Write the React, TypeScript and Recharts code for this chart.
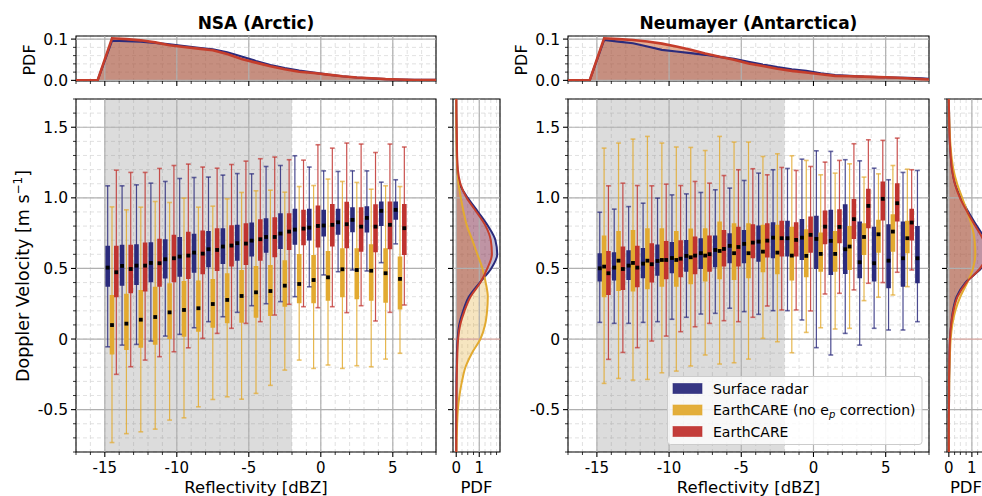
import React from 'react';
import {
  ComposedChart,
  XAxis,
  YAxis,
  CartesianGrid,
  ReferenceArea,
  ReferenceLine,
  Line,
  Scatter,
  Area,
} from 'recharts';

const FONT = '"DejaVu Sans", "Liberation Sans", sans-serif';

// colours
const BLUE = '#2b2b7c';
const YELLOW = '#e2aa30';
const RED = '#c0332f';
const RED_PDF = '#c53d2b';
const MINOR_GRID = '#d9d9d9';
const MAJOR_GRID = '#b0b0b0';

// axes / ticks
const reflMajor = [-15, -10, -5, 0, 5];
const reflLabels = ['-15', '-10', '-5', '0', '5'];
const reflMinor = [-17, -16, -15, -14, -13, -12, -11, -10, -9, -8, -7, -6, -5, -4, -3, -2, -1, 0, 1, 2, 3, 4, 5, 6, 7, 8];
const velMajor = [-0.5, 0, 0.5, 1, 1.5];
const velLabels = ['-0.5', '0', '0.5', '1.0', '1.5'];
const velMinor = [-0.8, -0.7, -0.6, -0.5, -0.4, -0.3, -0.2, -0.1, 0, 0.1, 0.2, 0.3, 0.4, 0.5, 0.6, 0.7, 0.8, 0.9, 1, 1.1, 1.2, 1.3, 1.4, 1.5, 1.6, 1.7];
const pdfMajor = [0, 0.1];
const pdfLabels = ['0.0', '0.1'];
const pdfMinor = [0, 0.02, 0.04, 0.06, 0.08, 0.1];
const densMajor = [0, 1];
const densLabels = ['0', '1'];
const densMinor = [0, 0.25, 0.5, 0.75, 1, 1.25, 1.5, 1.75];

// shaded reflectivity range
const spanFrom = -15;
const spanTo = -2;

const legendLabels = ['Surface radar', 'EarthCARE (no e', 'EarthCARE'];

// ---------- NSA (Arctic) box plots ----------
const nsaBins = [-14.5, -13.5, -12.5, -11.5, -10.5, -9.5, -8.5, -7.5, -6.5, -5.5, -4.5, -3.5, -2.5, -1.5, -0.5, 0.5, 1.5, 2.5, 3.5, 4.5, 5.5];

const nsaRadarHi = [1.085, 1.085, 1.092, 1.104, 1.116, 1.137, 1.144, 1.147, 1.161, 1.172, 1.17, 1.222, 1.229, 1.298, 1.218, 1.191, 1.187, 1.191, 1.191, 1.111, 1.128];
const nsaRadarQ3 = [0.66, 0.667, 0.672, 0.686, 0.707, 0.723, 0.745, 0.766, 0.785, 0.809, 0.825, 0.856, 0.891, 0.922, 0.922, 0.915, 0.922, 0.934, 0.941, 0.974, 0.974];
const nsaRadarMed = [0.506, 0.518, 0.52, 0.539, 0.565, 0.584, 0.612, 0.636, 0.655, 0.679, 0.697, 0.723, 0.747, 0.775, 0.789, 0.804, 0.827, 0.844, 0.858, 0.908, 0.915];
const nsaRadarQ1 = [0.37, 0.378, 0.383, 0.402, 0.428, 0.442, 0.47, 0.508, 0.532, 0.555, 0.584, 0.612, 0.638, 0.667, 0.697, 0.726, 0.738, 0.757, 0.754, 0.801, 0.844];
const nsaRadarLo = [-0.055, -0.043, -0.038, -0.014, 0.021, 0.033, 0.08, 0.123, 0.158, 0.189, 0.236, 0.25, 0.265, 0.3, 0.37, 0.454, 0.477, 0.489, 0.482, 0.541, 0.674];

const nsaNoCorrHi = [0.936, 0.915, 0.934, 0.974, 0.967, 0.998, 0.934, 0.941, 0.993, 1.038, 1.05, 1.054, 1.04, 1.08, 1.087, 1.133, 1.116, 1.109, 1.061, 1.085, 1.08];
const nsaNoCorrQ3 = [0.312, 0.32, 0.348, 0.371, 0.395, 0.411, 0.414, 0.426, 0.466, 0.489, 0.518, 0.525, 0.558, 0.603, 0.596, 0.624, 0.643, 0.643, 0.672, 0.643, 0.584];
const nsaNoCorrMed = [0.099, 0.109, 0.137, 0.156, 0.189, 0.206, 0.218, 0.248, 0.277, 0.305, 0.331, 0.34, 0.378, 0.39, 0.418, 0.437, 0.494, 0.489, 0.484, 0.466, 0.426];
const nsaNoCorrQ1 = [-0.109, -0.078, -0.061, -0.04, 0.0, 0.016, 0.052, 0.08, 0.111, 0.116, 0.151, 0.163, 0.229, 0.253, 0.253, 0.272, 0.296, 0.281, 0.272, 0.257, 0.21];
const nsaNoCorrLo = [-0.733, -0.67, -0.657, -0.638, -0.574, -0.558, -0.48, -0.428, -0.409, -0.426, -0.385, -0.328, -0.22, -0.149, -0.208, -0.184, -0.208, -0.189, -0.196, -0.142, -0.101];

const nsaEcHi = [1.196, 1.18, 1.18, 1.208, 1.229, 1.239, 1.218, 1.21, 1.236, 1.26, 1.277, 1.289, 1.27, 1.267, 1.376, 1.352, 1.388, 1.381, 1.321, 1.381, 1.36];
const nsaEcQ3 = [0.66, 0.667, 0.683, 0.711, 0.738, 0.759, 0.768, 0.785, 0.806, 0.82, 0.849, 0.863, 0.891, 0.915, 0.946, 0.957, 0.972, 0.934, 0.955, 0.974, 0.957];
const nsaEcMed = [0.473, 0.496, 0.52, 0.537, 0.572, 0.591, 0.605, 0.631, 0.662, 0.676, 0.707, 0.723, 0.761, 0.782, 0.801, 0.809, 0.813, 0.796, 0.796, 0.809, 0.785];
const nsaEcQ1 = [0.296, 0.324, 0.336, 0.371, 0.402, 0.426, 0.459, 0.482, 0.513, 0.525, 0.555, 0.579, 0.631, 0.664, 0.648, 0.655, 0.643, 0.619, 0.615, 0.636, 0.596];
const nsaEcLo = [-0.25, -0.196, -0.149, -0.125, -0.09, -0.062, 0.005, 0.04, 0.076, 0.111, 0.123, 0.17, 0.246, 0.229, 0.222, 0.229, 0.187, 0.236, 0.128, 0.189, 0.241];

// ---------- Neumayer (Antarctica) box plots ----------
const neuBins = [-14.5, -13.5, -12.5, -11.5, -10.5, -9.5, -8.5, -7.5, -6.5, -5.5, -4.5, -3.5, -2.5, -1.5, -0.5, 0.5, 1.5, 2.5, 3.5, 4.5, 5.5, 6.5];
const neuRadarBins = [-14.5, -13.5, -12.5, -11.5, -10.5, -9.5, -8.5, -7.5, -6.5, -5.5, -4.5, -3.5, -2.5, -1.5, -0.5, 0.5, 1.5, 2.5, 3.5, 4.5, 5.5, 6.5, 7.5];

const neuRadarHi = [0.898, 0.92, 0.938, 0.962, 0.998, 1.021, 1.028, 1.038, 1.057, 1.069, 1.123, 1.175, 1.199, 1.208, 1.274, 1.333, 1.329, 1.27, 1.262, 1.21, 1.128, 1.18, 1.194];
const neuRadarQ3 = [0.608, 0.615, 0.629, 0.645, 0.669, 0.688, 0.702, 0.714, 0.733, 0.75, 0.773, 0.804, 0.827, 0.837, 0.851, 0.874, 0.915, 0.955, 0.832, 0.796, 0.813, 0.832, 0.801];
const neuRadarMed = [0.501, 0.506, 0.52, 0.534, 0.553, 0.574, 0.589, 0.608, 0.631, 0.66, 0.674, 0.69, 0.718, 0.714, 0.718, 0.709, 0.695, 0.636, 0.544, 0.537, 0.555, 0.572, 0.572];
const neuRadarQ1 = [0.407, 0.414, 0.418, 0.43, 0.449, 0.466, 0.477, 0.496, 0.508, 0.537, 0.537, 0.548, 0.572, 0.584, 0.56, 0.496, 0.454, 0.461, 0.43, 0.407, 0.359, 0.371, 0.395];
const neuRadarLo = [0.118, 0.111, 0.111, 0.118, 0.123, 0.14, 0.154, 0.177, 0.182, 0.218, 0.194, 0.175, 0.201, 0.201, 0.135, -0.061, -0.113, 0.04, -0.043, 0.076, 0.064, 0.064, 0.123];

const neuNoCorrHi = [1.352, 1.388, 1.416, 1.435, 1.388, 1.36, 1.357, 1.335, 1.435, 1.395, 1.395, 1.293, 1.312, 1.298, 1.265, 1.163, 1.175, 1.241, 1.147, 1.17, 1.229, 1.203];
const neuNoCorrQ3 = [0.733, 0.766, 0.773, 0.785, 0.785, 0.766, 0.782, 0.785, 0.832, 0.82, 0.82, 0.809, 0.809, 0.796, 0.778, 0.754, 0.766, 0.801, 0.82, 0.844, 0.884, 0.837];
const neuNoCorrMed = [0.513, 0.555, 0.539, 0.555, 0.56, 0.56, 0.579, 0.591, 0.624, 0.608, 0.608, 0.619, 0.612, 0.591, 0.589, 0.603, 0.603, 0.655, 0.723, 0.742, 0.761, 0.714];
const neuNoCorrQ1 = [0.296, 0.34, 0.336, 0.352, 0.371, 0.371, 0.388, 0.407, 0.423, 0.418, 0.43, 0.473, 0.459, 0.414, 0.437, 0.477, 0.477, 0.489, 0.596, 0.612, 0.619, 0.608];
const neuNoCorrLo = [-0.314, -0.279, -0.291, -0.286, -0.239, -0.227, -0.191, -0.113, -0.177, -0.168, -0.142, 0.005, -0.019, -0.097, 0.047, 0.08, 0.071, 0.076, 0.272, 0.296, 0.312, 0.371];

const neuEcHi = [1.085, 1.104, 1.087, 1.085, 1.097, 1.087, 1.116, 1.104, 1.158, 1.199, 1.206, 1.163, 1.215, 1.194, 1.222, 1.253, 1.265, 1.383, 1.411, 1.407, 1.423, 1.199];
const neuEcQ3 = [0.624, 0.655, 0.66, 0.678, 0.695, 0.7, 0.726, 0.733, 0.773, 0.796, 0.813, 0.82, 0.837, 0.827, 0.867, 0.91, 0.92, 0.991, 1.064, 1.116, 1.104, 0.922];
const neuEcMed = [0.466, 0.496, 0.506, 0.53, 0.56, 0.569, 0.591, 0.601, 0.638, 0.652, 0.683, 0.697, 0.714, 0.702, 0.738, 0.796, 0.794, 0.849, 0.943, 0.993, 0.962, 0.825];
const neuEcQ1 = [0.312, 0.348, 0.367, 0.4, 0.423, 0.437, 0.459, 0.477, 0.513, 0.513, 0.572, 0.577, 0.584, 0.584, 0.612, 0.672, 0.678, 0.709, 0.785, 0.839, 0.832, 0.697];
const neuEcLo = [-0.144, -0.095, -0.061, -0.014, 0.021, 0.052, 0.087, 0.111, 0.13, 0.123, 0.154, 0.234, 0.206, 0.206, 0.199, 0.319, 0.324, 0.348, 0.395, 0.4, 0.473, 0.489];

// ---------- reflectivity PDFs (top panels) ----------
const pdfRefl = [-17, -16.5, -15.5, -14.5, -13.5, -12.5, -11.5, -10.5, -9.5, -8.5, -7.5, -6.5, -5.5, -4.5, -3.5, -2.5, -1.5, -0.5, 0.5, 1.5, 2.5, 3.5, 4.5, 5.5, 6.5, 7.5, 8];
const nsaTopRadar = [0, 0, 0, 0.096, 0.095, 0.094, 0.091, 0.087, 0.083, 0.079, 0.075, 0.068, 0.058, 0.047, 0.037, 0.03, 0.024, 0.019, 0.014, 0.01, 0.007, 0.005, 0.003, 0.002, 0.001, 0.001, 0.001];
const nsaTopEc = [0, 0, 0, 0.102, 0.1, 0.097, 0.092, 0.085, 0.081, 0.077, 0.073, 0.064, 0.052, 0.043, 0.034, 0.027, 0.021, 0.018, 0.014, 0.01, 0.007, 0.005, 0.003, 0.002, 0.001, 0.001, 0.001];
const neuTopRadar = [0, 0, 0, 0.098, 0.094, 0.09, 0.082, 0.074, 0.07, 0.066, 0.062, 0.057, 0.052, 0.045, 0.038, 0.032, 0.027, 0.023, 0.017, 0.013, 0.011, 0.009, 0.008, 0.007, 0.006, 0.005, 0.004];
const neuTopEc = [0, 0, 0, 0.102, 0.1, 0.098, 0.094, 0.089, 0.082, 0.074, 0.065, 0.057, 0.05, 0.041, 0.035, 0.028, 0.023, 0.019, 0.015, 0.011, 0.01, 0.009, 0.008, 0.007, 0.005, 0.003, 0.002];

// ---------- velocity PDFs (side panels) ----------
const velGrid = [-0.8, -0.7, -0.6, -0.5, -0.4, -0.3, -0.2, -0.1, 0, 0.1, 0.2, 0.3, 0.4, 0.5, 0.6, 0.7, 0.8, 0.9, 1.0, 1.1, 1.2, 1.3, 1.4, 1.5, 1.6, 1.7];
const nsaVelRadar = [0, 0, 0, 0.005, 0.01, 0.01, 0.02, 0.03, 0.06, 0.13, 0.3, 0.55, 1.02, 1.52, 1.78, 1.7, 1.38, 0.95, 0.5, 0.15, 0.05, 0.03, 0.02, 0.01, 0.005, 0];
const nsaVelNoCorr = [0.01, 0.02, 0.04, 0.07, 0.14, 0.25, 0.4, 0.68, 1.05, 1.25, 1.34, 1.37, 1.28, 1.14, 0.92, 0.7, 0.47, 0.32, 0.2, 0.1, 0.05, 0.02, 0.01, 0.005, 0, 0];
const nsaVelEc = [0, 0, 0.005, 0.01, 0.01, 0.02, 0.03, 0.05, 0.08, 0.17, 0.36, 0.62, 1.05, 1.35, 1.55, 1.5, 1.28, 0.88, 0.45, 0.18, 0.07, 0.04, 0.03, 0.02, 0.01, 0.005];
const neuVelRadar = [0, 0, 0, 0.005, 0.01, 0.01, 0.02, 0.03, 0.05, 0.1, 0.18, 0.34, 0.72, 1.4, 1.75, 1.6, 1.22, 0.85, 0.52, 0.27, 0.14, 0.08, 0.04, 0.02, 0.01, 0];
const neuVelNoCorr = [0, 0, 0, 0.005, 0.01, 0.02, 0.03, 0.05, 0.08, 0.15, 0.28, 0.5, 0.8, 1.05, 1.15, 1.12, 1.0, 0.8, 0.58, 0.36, 0.2, 0.11, 0.06, 0.03, 0.01, 0];
const neuVelEc = [0, 0, 0, 0.005, 0.01, 0.01, 0.02, 0.03, 0.05, 0.1, 0.2, 0.38, 0.76, 1.35, 1.65, 1.5, 1.15, 0.8, 0.48, 0.26, 0.14, 0.08, 0.04, 0.02, 0.01, 0];

type BoxSet = {
  name: string;
  bins: number[];
  off: number;
  color: string;
  lo: number[];
  q1: number[];
  med: number[];
  q3: number[];
  hi: number[];
};

const nsaSets: BoxSet[] = [
  { name: 'nsa-radar', bins: nsaBins, off: -0.3, color: BLUE, lo: nsaRadarLo, q1: nsaRadarQ1, med: nsaRadarMed, q3: nsaRadarQ3, hi: nsaRadarHi },
  { name: 'nsa-nocorr', bins: nsaBins, off: 0, color: YELLOW, lo: nsaNoCorrLo, q1: nsaNoCorrQ1, med: nsaNoCorrMed, q3: nsaNoCorrQ3, hi: nsaNoCorrHi },
  { name: 'nsa-ec', bins: nsaBins, off: 0.3, color: RED, lo: nsaEcLo, q1: nsaEcQ1, med: nsaEcMed, q3: nsaEcQ3, hi: nsaEcHi },
];

const neuSets: BoxSet[] = [
  { name: 'neu-radar', bins: neuRadarBins, off: -0.3, color: BLUE, lo: neuRadarLo, q1: neuRadarQ1, med: neuRadarMed, q3: neuRadarQ3, hi: neuRadarHi },
  { name: 'neu-nocorr', bins: neuBins, off: 0, color: YELLOW, lo: neuNoCorrLo, q1: neuNoCorrQ1, med: neuNoCorrMed, q3: neuNoCorrQ3, hi: neuNoCorrHi },
  { name: 'neu-ec', bins: neuBins, off: 0.3, color: RED, lo: neuEcLo, q1: neuEcQ1, med: neuEcMed, q3: neuEcQ3, hi: neuEcHi },
];

// tick renderers: major ticks longer and labelled, minor ticks short
const xTick = (majors: number[], labels: string[] | null) => (p: any) => {
  const k = majors.indexOf(p.payload.value);
  return (
    <g>
      <line x1={p.x} x2={p.x} y1={p.y} y2={p.y + (k >= 0 ? 5 : 3)} stroke="#000" strokeWidth={k >= 0 ? 1.1 : 0.8} />
      {labels && k >= 0 ? (
        <text x={p.x} y={p.y + 21} textAnchor="middle" fontSize={15} fontFamily={FONT} fill="#000">
          {labels[k]}
        </text>
      ) : null}
    </g>
  );
};

const yTick = (majors: number[], labels: string[] | null) => (p: any) => {
  const k = majors.indexOf(p.payload.value);
  return (
    <g>
      <line x1={p.x - (k >= 0 ? 5 : 3)} x2={p.x} y1={p.y} y2={p.y} stroke="#000" strokeWidth={k >= 0 ? 1.1 : 0.8} />
      {labels && k >= 0 ? (
        <text x={p.x - 8} y={p.y} dy="0.36em" textAnchor="end" fontSize={15.5} fontFamily={FONT} fill="#000">
          {labels[k]}
        </text>
      ) : null}
    </g>
  );
};

const capShape = (color: string) => (p: any) => (
  <line x1={p.cx - 2.4} x2={p.cx + 2.4} y1={p.cy} y2={p.cy} stroke={color} strokeWidth={1.6} strokeOpacity={0.7} />
);

const medianShape = (p: any) => <rect x={p.cx - 1.9} y={p.cy - 1.9} width={3.8} height={3.8} fill="#000" />;

function boxElements(s: BoxSet) {
  const xs = s.bins.map((b) => b + s.off);
  const whiskers = xs.flatMap((x, i) => [{ x, y: s.lo[i] }, { x, y: s.hi[i] }, { x, y: null }]);
  const boxes = xs.flatMap((x, i) => [{ x, y: s.q1[i] }, { x, y: s.q3[i] }, { x, y: null }]);
  const caps = xs.flatMap((x, i) => [{ x, y: s.lo[i] }, { x, y: s.hi[i] }]);
  const medians = xs.map((x, i) => ({ x, y: s.med[i] }));
  return [
    <Line key={s.name + '-w'} data={whiskers} dataKey="y" type="linear" stroke={s.color} strokeOpacity={0.85} strokeWidth={1.2} dot={false} activeDot={false} connectNulls={false} isAnimationActive={false} />,
    <Line key={s.name + '-b'} data={boxes} dataKey="y" type="linear" stroke={s.color} strokeWidth={4.6} dot={false} activeDot={false} connectNulls={false} isAnimationActive={false} />,
    <Scatter key={s.name + '-c'} data={caps} shape={capShape(s.color)} isAnimationActive={false} />,
    <Scatter key={s.name + '-m'} data={medians} shape={medianShape} isAnimationActive={false} />,
  ];
}

function BoxPanel({ plotLeft, plotW, sets }: { plotLeft: number; plotW: number; sets: BoxSet[] }) {
  return (
    <div style={{ position: 'absolute', left: plotLeft - 60, top: 87 }}>
      <ComposedChart width={60 + plotW + 4} height={391} margin={{ top: 12, right: 4, bottom: 0, left: 0 }}>
        <XAxis type="number" dataKey="x" domain={[-17, 8]} allowDataOverflow ticks={reflMinor} interval={0}
          tick={xTick(reflMajor, reflLabels)} tickLine={false} axisLine={false} tickSize={0} tickMargin={0} height={26} />
        <YAxis type="number" dataKey="y" domain={[-0.8, 1.7]} allowDataOverflow ticks={velMinor} interval={0}
          tick={yTick(velMajor, velLabels)} tickLine={false} axisLine={false} tickSize={0} tickMargin={0} width={60} />
        <ReferenceArea x1={spanFrom} x2={spanTo} fill="#7f7f7f" fillOpacity={0.27} stroke="none" />
        <CartesianGrid strokeDasharray="4 3" stroke={MINOR_GRID} strokeWidth={0.8} />
        {reflMajor.map((v) => <ReferenceLine key={'gx' + v} x={v} stroke={MAJOR_GRID} strokeWidth={1.2} />)}
        {velMajor.map((v) => <ReferenceLine key={'gy' + v} y={v} stroke={MAJOR_GRID} strokeWidth={1.2} />)}
        {sets.flatMap((s) => boxElements(s))}
        <ReferenceArea x1={-17} x2={8} y1={-0.8} y2={1.7} fill="none" stroke="#000" strokeWidth={1.1} />
      </ComposedChart>
    </div>
  );
}

function TopPdf({ plotLeft, plotW, radar, ec }: { plotLeft: number; plotW: number; radar: number[]; ec: number[] }) {
  const rows = pdfRefl.map((x, i) => ({ x, radar: radar[i], noCorr: ec[i], ec: ec[i] }));
  return (
    <div style={{ position: 'absolute', left: plotLeft - 60, top: 22 }}>
      <ComposedChart width={60 + plotW + 4} height={69} data={rows} margin={{ top: 14, right: 4, bottom: 0, left: 0 }}>
        <XAxis type="number" dataKey="x" domain={[-17, 8]} allowDataOverflow ticks={reflMinor} interval={0}
          tick={xTick(reflMajor, null)} tickLine={false} axisLine={false} tickSize={0} tickMargin={0} height={10} />
        <YAxis type="number" domain={[-0.0015, 0.1075]} allowDataOverflow ticks={pdfMinor} interval={0}
          tick={yTick(pdfMajor, pdfLabels)} tickLine={false} axisLine={false} tickSize={0} tickMargin={0} width={60} />
        <CartesianGrid strokeDasharray="4 3" stroke={MINOR_GRID} strokeWidth={0.8} />
        {reflMajor.map((v) => <ReferenceLine key={'gx' + v} x={v} stroke={MAJOR_GRID} strokeWidth={1.2} />)}
        {pdfMajor.map((v) => <ReferenceLine key={'gy' + v} y={v} stroke={MAJOR_GRID} strokeWidth={1.2} />)}
        <Area dataKey="radar" type="linear" baseValue={0} fill={BLUE} fillOpacity={0.3} stroke="none" isAnimationActive={false} />
        <Area dataKey="noCorr" type="linear" baseValue={0} fill={YELLOW} fillOpacity={0.3} stroke="none" isAnimationActive={false} />
        <Area dataKey="ec" type="linear" baseValue={0} fill={RED} fillOpacity={0.3} stroke="none" isAnimationActive={false} />
        <Line dataKey="radar" type="linear" stroke={BLUE} strokeWidth={2.2} dot={false} activeDot={false} isAnimationActive={false} />
        <Line dataKey="ec" type="linear" stroke={RED_PDF} strokeWidth={2.6} dot={false} activeDot={false} isAnimationActive={false} />
        <ReferenceArea x1={-17} x2={8} y1={-0.0015} y2={0.1075} fill="none" stroke="#000" strokeWidth={1.1} />
      </ComposedChart>
    </div>
  );
}

function SidePdf({ plotLeft, domain, radar, noCorr, ec }: { plotLeft: number; domain: [number, number]; radar: number[]; noCorr: number[]; ec: number[] }) {
  const rows = velGrid.map((v, i) => ({ v, radar: radar[i], noCorr: noCorr[i], ec: ec[i] }));
  return (
    <div style={{ position: 'absolute', left: plotLeft - 6, top: 87 }}>
      <ComposedChart layout="vertical" width={6 + 47 + 4} height={391} data={rows} margin={{ top: 12, right: 4, bottom: 0, left: 0 }}>
        <XAxis type="number" domain={domain} allowDataOverflow ticks={densMinor} interval={0}
          tick={xTick(densMajor, densLabels)} tickLine={false} axisLine={false} tickSize={0} tickMargin={0} height={26} />
        <YAxis type="number" dataKey="v" domain={[-0.8, 1.7]} allowDataOverflow reversed ticks={velMinor} interval={0}
          tick={yTick(velMajor, null)} tickLine={false} axisLine={false} tickSize={0} tickMargin={0} width={6} />
        <CartesianGrid strokeDasharray="4 3" stroke={MINOR_GRID} strokeWidth={0.8} />
        {densMajor.map((v) => <ReferenceLine key={'gx' + v} x={v} stroke={MAJOR_GRID} strokeWidth={1.2} />)}
        {velMajor.map((v) => <ReferenceLine key={'gy' + v} y={v} stroke={v === 0 ? '#d3a29c' : MAJOR_GRID} strokeWidth={1.2} />)}
        <Area dataKey="radar" type="monotone" baseValue={0} fill={BLUE} fillOpacity={0.3} stroke="none" isAnimationActive={false} />
        <Area dataKey="noCorr" type="monotone" baseValue={0} fill={YELLOW} fillOpacity={0.3} stroke="none" isAnimationActive={false} />
        <Area dataKey="ec" type="monotone" baseValue={0} fill={RED} fillOpacity={0.3} stroke="none" isAnimationActive={false} />
        <Line dataKey="radar" type="monotone" stroke={BLUE} strokeWidth={2} dot={false} activeDot={false} isAnimationActive={false} />
        <Line dataKey="noCorr" type="monotone" stroke={YELLOW} strokeWidth={2} dot={false} activeDot={false} isAnimationActive={false} />
        <Line dataKey="ec" type="monotone" stroke={RED_PDF} strokeWidth={2} dot={false} activeDot={false} isAnimationActive={false} />
        <ReferenceArea x1={domain[0]} x2={domain[1]} y1={-0.8} y2={1.7} fill="none" stroke="#000" strokeWidth={1.1} />
      </ComposedChart>
    </div>
  );
}

function Overlay() {
  const legendColors = [BLUE, YELLOW, RED];
  return (
    <svg width={982} height={496} style={{ position: 'absolute', left: 0, top: 0, pointerEvents: 'none' }} fontFamily={FONT}>
      <text x={256} y={29} textAnchor="middle" fontSize={17} fontWeight="bold">NSA (Arctic)</text>
      <text x={748.5} y={29} textAnchor="middle" fontSize={17} fontWeight="bold">Neumayer (Antarctica)</text>
      <text transform="translate(35,60) rotate(-90)" textAnchor="middle" fontSize={16}>PDF</text>
      <text transform="translate(527,60) rotate(-90)" textAnchor="middle" fontSize={16}>PDF</text>
      <text transform="translate(29,276) rotate(-90)" textAnchor="middle" fontSize={17.5}>
        Doppler Velocity [m s<tspan dy={-7} fontSize={12}>−1</tspan>
        <tspan dy={7}>]</tspan>
      </text>
      <text x={256} y={492.5} textAnchor="middle" fontSize={16.5}>Reflectivity [dBZ]</text>
      <text x={748.5} y={492.5} textAnchor="middle" fontSize={16.5}>Reflectivity [dBZ]</text>
      <text x={476.5} y={492.5} textAnchor="middle" fontSize={16.5}>PDF</text>
      <text x={966} y={492.5} textAnchor="middle" fontSize={16.5}>PDF</text>

      <rect x={667.5} y={376.5} width={254.5} height={68} rx={3} fill="#fff" fillOpacity={0.8} stroke="#cccccc" />
      {legendLabels.map((label, i) => (
        <g key={label}>
          <rect x={673} y={383.5 + i * 21.5} width={29} height={10} fill={legendColors[i]} fillOpacity={0.95} stroke={legendColors[i]} strokeOpacity={0.6} />
          <text x={713} y={393.5 + i * 21.5} fontSize={14}>
            {label}
            {i === 1 ? (
              <>
                <tspan dy={3} fontSize={10} fontStyle="italic">p</tspan>
                <tspan dy={-3}> correction)</tspan>
              </>
            ) : null}
          </text>
        </g>
      ))}
    </svg>
  );
}

export default function App() {
  return (
    <div style={{ position: 'absolute', left: 0, top: 0, width: 982, height: 496, overflow: 'hidden', background: '#fff', fontFamily: FONT }}>
      <TopPdf plotLeft={76} plotW={360} radar={nsaTopRadar} ec={nsaTopEc} />
      <BoxPanel plotLeft={76} plotW={360} sets={nsaSets} />
      <SidePdf plotLeft={453} domain={[-0.14, 1.9]} radar={nsaVelRadar} noCorr={nsaVelNoCorr} ec={nsaVelEc} />
      <TopPdf plotLeft={568} plotW={361} radar={neuTopRadar} ec={neuTopEc} />
      <BoxPanel plotLeft={568} plotW={361} sets={neuSets} />
      <SidePdf plotLeft={947} domain={[-0.08, 1.96]} radar={neuVelRadar} noCorr={neuVelNoCorr} ec={neuVelEc} />
      <Overlay />
    </div>
  );
}
